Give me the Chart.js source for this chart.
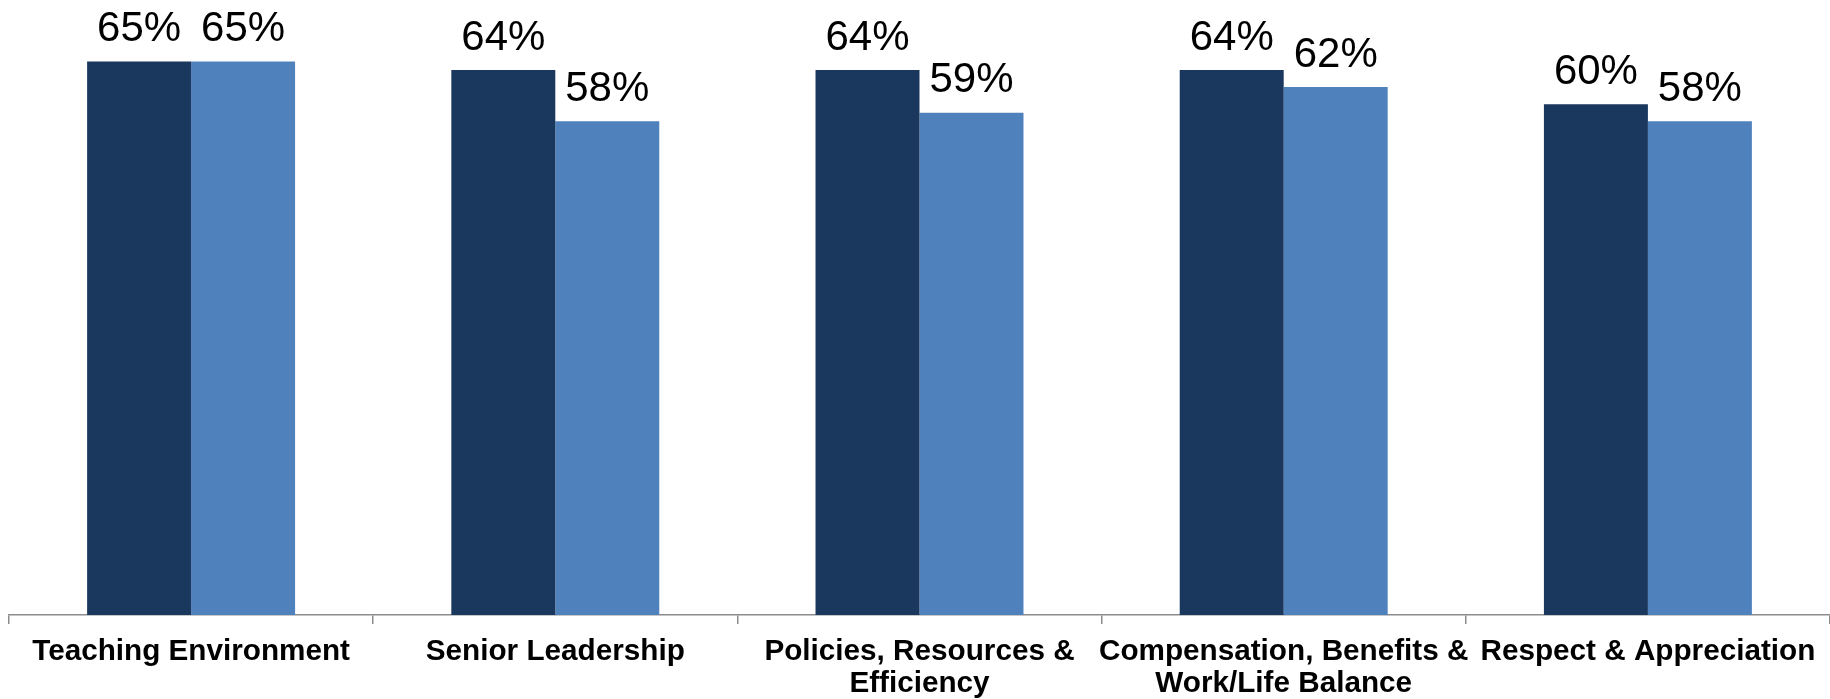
<!DOCTYPE html>
<html>
<head>
<meta charset="utf-8">
<script src="https://cdn.jsdelivr.net/npm/chart.js@4/dist/chart.umd.min.js"></script>
<style>
  html, body { margin: 0; padding: 0; background: #ffffff; }
  #wrap { width: 1830px; height: 699px; }
</style>
</head>
<body>
<div id="wrap"><canvas id="chart" width="1830" height="699"></canvas></div>
<script>
// Survey dimensions and the two favourable-score series (percent)
const categories = [
  'Teaching Environment',
  'Senior Leadership',
  ['Policies, Resources &', 'Efficiency'],
  ['Compensation, Benefits &', 'Work/Life Balance'],
  'Respect & Appreciation'
];
const seriesA = [65, 64, 64, 64, 60];
const seriesB = [65, 58, 59, 62, 58];

// Writes "NN%" above every bar
const valueLabels = {
  id: 'valueLabels',
  afterDatasetsDraw(chart) {
    const ctx = chart.ctx;
    ctx.save();
    ctx.font = '42px "Liberation Sans", Arial, sans-serif';
    ctx.fillStyle = '#000000';
    ctx.textAlign = 'center';
    ctx.textBaseline = 'alphabetic';
    chart.data.datasets.forEach((ds, di) => {
      chart.getDatasetMeta(di).data.forEach((bar, i) => {
        ctx.fillText(ds.data[i] + '%', bar.x, bar.y - 20.5);
      });
    });
    ctx.restore();
  }
};

new Chart(document.getElementById('chart'), {
  type: 'bar',
  data: {
    labels: categories,
    datasets: [
      { data: seriesA, backgroundColor: '#1A375E', categoryPercentage: 0.571, barPercentage: 1 },
      { data: seriesB, backgroundColor: '#4F81BD', categoryPercentage: 0.571, barPercentage: 1 }
    ]
  },
  options: {
    responsive: false,
    animation: false,
    devicePixelRatio: 1,
    layout: { padding: { left: 9, top: 19, right: 0, bottom: 0 } },
    plugins: { legend: { display: false }, tooltip: { enabled: false } },
    scales: {
      y: { display: false, min: 0, max: 70 },
      x: {
        afterFit(scale) { scale.height = 84; },
        border: { display: true, color: '#8C8C8C', width: 1.5 },
        grid: { display: true, drawOnChartArea: false, drawTicks: true, tickLength: 9, color: '#8C8C8C', lineWidth: 1.5 },
        ticks: {
          autoSkip: false, maxRotation: 0, minRotation: 0, padding: 12,
          color: '#000000',
          font: { family: '"Liberation Sans", Arial, sans-serif', size: 29.7, weight: 'bold', lineHeight: 1.08 }
        }
      }
    }
  },
  plugins: [valueLabels]
});
</script>
</body>
</html>
